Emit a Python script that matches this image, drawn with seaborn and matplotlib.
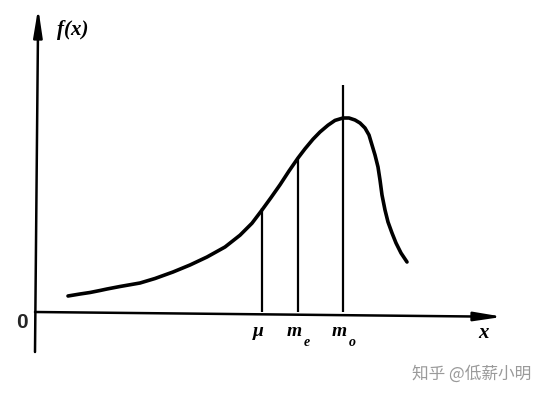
import numpy as np
import pandas as pd
import seaborn as sns
import matplotlib.pyplot as plt

# density curve (left-skewed)
curve_x = [0.825, 1.125, 1.375, 1.625, 1.8, 2.125, 2.625, 3.0, 3.45, 3.875,
           4.3, 4.75, 5.125, 5.425, 5.675, 5.9, 6.125, 6.35, 6.575, 6.75,
           6.95, 7.125, 7.325, 7.5, 7.7, 7.85, 8.0, 8.125, 8.25, 8.35,
           8.425, 8.5, 8.575, 8.625, 8.675, 8.75, 8.825, 8.925, 9.025, 9.15,
           9.3]
curve_y = [0.40, 0.45, 0.4875, 0.5375, 0.575, 0.6375, 0.725, 0.8375, 1.0, 1.175,
           1.375, 1.625, 1.92, 2.22, 2.55, 2.86, 3.18, 3.525, 3.85, 4.08,
           4.32, 4.5, 4.67, 4.79, 4.85, 4.85, 4.8, 4.725, 4.6, 4.425,
           4.175, 3.925, 3.625, 3.3, 2.925, 2.55, 2.25, 1.975, 1.725, 1.475,
           1.25]

# mean, median, mode markers
marker_labels = ['μ', 'm', 'm']
marker_subs = ['', 'e', 'o']
marker_x = [5.675, 6.575, 7.7]
marker_top = [2.6, 3.85, 5.675]

df = pd.DataFrame({'x': curve_x, 'y': curve_y})

sns.set_theme(style='white')
plt.rcParams['font.family'] = ['Liberation Serif', 'DejaVu Serif']

fig = plt.figure(figsize=(5.48, 4), dpi=100)
ax = fig.add_axes([0, 0, 1, 1])
ax.set_xlim(-0.875, 12.825)
ax.set_ylim(-2.2, 7.8)
ax.axis('off')

# axes with arrows
arrow = dict(arrowstyle='-|>,head_length=1.4,head_width=0.22', lw=1.8,
             color='black', shrinkA=0, shrinkB=0)
ax.annotate('', xy=(0.08, 7.6), xytext=(0, -1.0), arrowprops=arrow)
ax.annotate('', xy=(11.7, -0.12), xytext=(0, 0.0), arrowprops=arrow)

sns.lineplot(data=df, x='x', y='y', ax=ax, color='black', lw=2.6,
             sort=False, legend=False, solid_joinstyle='round',
             solid_capstyle='round')
ax.vlines(marker_x, 0, marker_top, color='black', lw=1.6)

bold_it = dict(fontweight='bold', fontstyle='italic', color='black')
ax.text(0.95, 7.05, 'f(x)', fontsize=15, ha='center', va='center', **bold_it)
ax.text(-0.33, -0.25, '0', fontsize=15, ha='center', va='center',
        family=['Liberation Sans', 'DejaVu Sans'], fontweight='bold')
for xm, lab, sub in zip(marker_x, marker_labels, marker_subs):
    ax.text(xm - 0.1, -0.5, lab, fontsize=14, ha='center', va='center', **bold_it)
    if sub:
        ax.text(xm + 0.22, -0.75, sub, fontsize=10, ha='center', va='center', **bold_it)
ax.text(11.2, -0.52, 'x', fontsize=15, ha='center', va='center', **bold_it)

# watermark
ax.text(12.4, -1.55, '知乎 @低薪小明', fontsize=12, ha='right', va='center',
        color='#9a9a9a', family=['Noto Sans CJK SC', 'DejaVu Sans'])

fig.savefig('out.png', dpi=100)
